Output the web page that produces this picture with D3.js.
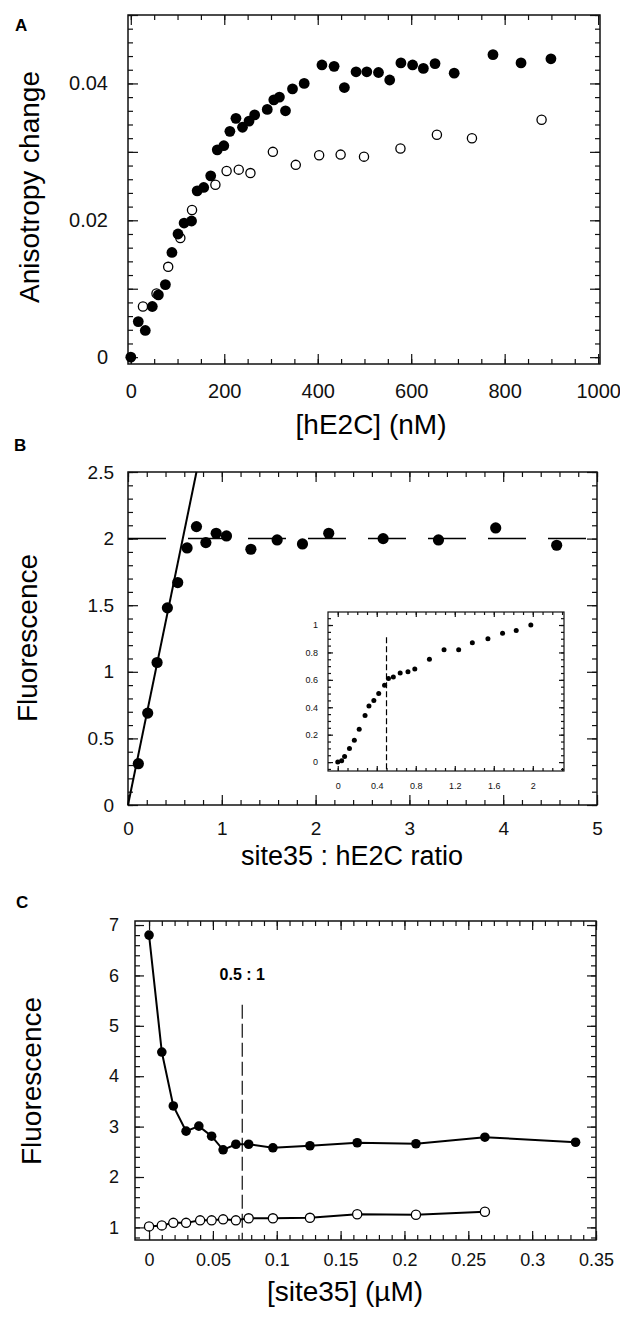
<!DOCTYPE html>
<html>
<head>
<meta charset="utf-8">
<script src="https://cdn.jsdelivr.net/npm/d3@7"></script>
<style>
  body { margin: 0; background: #fff; }
  svg { display: block; font-family: "Liberation Sans", Arial, Helvetica, sans-serif; }
  .axis line { stroke: #111; stroke-width: 1.2; }
  .axis text { fill: #111; }
</style>
</head>
<body>
<svg id="fig" width="620" height="1318"></svg>
<script>
// ---- Panel A: anisotropy change vs [hE2C] (nM)
var aFilledX = [0, 16, 31, 46, 59, 74, 88, 101, 114, 130, 142, 156, 171, 185, 199, 212, 225, 239, 253, 265,
    292, 306, 318, 331, 346, 371, 409, 435, 457, 482, 505, 530, 554, 578, 603, 626, 651, 692, 775, 835, 899];
var aFilledY = [0, 0.0052, 0.0039, 0.0074, 0.0091, 0.0106, 0.0153, 0.0180, 0.0196, 0.0199, 0.0243, 0.0248,
    0.0265, 0.0303, 0.0309, 0.0330, 0.0349, 0.0336, 0.0345, 0.0354, 0.0362, 0.0376, 0.0380, 0.0360, 0.0392,
    0.0400, 0.0427, 0.0425, 0.0394, 0.0417, 0.0417, 0.0416, 0.0405, 0.0430, 0.0427, 0.0422, 0.0429, 0.0415,
    0.0442, 0.0430, 0.0436];
var aOpenX = [26, 55, 80, 106, 131, 181, 205, 231, 256, 304, 353, 403, 449, 499, 577, 655, 730, 879];
var aOpenY = [0.0074, 0.0093, 0.0132, 0.0174, 0.0215, 0.0252, 0.0272, 0.0274, 0.0269, 0.0300, 0.0281,
    0.0295, 0.0296, 0.0293, 0.0305, 0.0325, 0.0320, 0.0347];
var aXTicks = [0, 200, 400, 600, 800, 1000];
var aXTickText = ['0', '200', '400', '600', '800', '1000'];
var aYTicks = [0, 0.02, 0.04];
var aYTickText = ['0', '0.02', '0.04'];

// ---- Panel B: fluorescence vs site35 : hE2C ratio
var bX = [0.11, 0.21, 0.31, 0.42, 0.53, 0.63, 0.73, 0.83, 0.94, 1.05, 1.31, 1.59, 1.86, 2.14, 2.72, 3.31, 3.92, 4.57];
var bY = [0.31, 0.69, 1.07, 1.48, 1.67, 1.93, 2.09, 1.97, 2.04, 2.02, 1.92, 1.99, 1.96, 2.04, 2.00, 1.99, 2.08, 1.95];
var bFitX = [0, 0.73];
var bFitY = [0, 2.5];
var bPlateau = 2;
var bXTicks = [0, 1, 2, 3, 4, 5];
var bXTickText = ['0', '1', '2', '3', '4', '5'];
var bYTicks = [0, 0.5, 1, 1.5, 2, 2.5];
var bYTickText = ['0', '0.5', '1', '1.5', '2', '2.5'];

// inset of panel B
var inX = [0, 0.04, 0.07, 0.12, 0.17, 0.22, 0.28, 0.32, 0.37, 0.42, 0.48, 0.52, 0.57, 0.64, 0.72, 0.79,
    0.94, 1.09, 1.24, 1.38, 1.54, 1.69, 1.83, 1.98];
var inY = [0, 0.01, 0.04, 0.10, 0.16, 0.24, 0.34, 0.41, 0.45, 0.50, 0.56, 0.61, 0.62, 0.65, 0.66, 0.68,
    0.75, 0.82, 0.82, 0.87, 0.90, 0.94, 0.96, 1.00];
var inBreak = 0.5;
var inXTicks = [0, 0.4, 0.8, 1.2, 1.6, 2];
var inXTickText = ['0', '0.4', '0.8', '1.2', '1.6', '2'];
var inYTicks = [0, 0.2, 0.4, 0.6, 0.8, 1];
var inYTickText = ['0', '0.2', '0.4', '0.6', '0.8', '1'];

// ---- Panel C: fluorescence vs [site35] (uM)
var cFilledX = [0, 0.01, 0.019, 0.029, 0.039, 0.049, 0.058, 0.068, 0.078, 0.097, 0.126, 0.163, 0.209, 0.263, 0.334];
var cFilledY = [6.80, 4.48, 3.41, 2.91, 3.01, 2.81, 2.54, 2.65, 2.65, 2.58, 2.62, 2.68, 2.66, 2.79, 2.69];
var cOpenX = [0, 0.01, 0.019, 0.029, 0.04, 0.049, 0.058, 0.068, 0.078, 0.097, 0.126, 0.163, 0.209, 0.263];
var cOpenY = [1.02, 1.04, 1.09, 1.09, 1.14, 1.14, 1.16, 1.14, 1.18, 1.18, 1.19, 1.26, 1.25, 1.31];
var cMark = 0.073;
var cXTicks = [0, 0.05, 0.1, 0.15, 0.2, 0.25, 0.3, 0.35];
var cXTickText = ['0', '0.05', '0.1', '0.15', '0.2', '0.25', '0.3', '0.35'];
var cYTicks = [1, 2, 3, 4, 5, 6, 7];
var cYTickText = ['1', '2', '3', '4', '5', '6', '7'];

var svg = d3.select('#fig');

function steps(n0, n1, step) {
    return d3.range(n0, n1 + 1).map(function(i) { return +(i * step).toFixed(6); });
}

// tick marks pointing into the frame
function addTicks(g, axisFn, scale, values, len, tr) {
    g.append('g').attr('class', 'axis').attr('transform', tr)
        .call(axisFn(scale).tickValues(values).tickSize(-len).tickFormat(''))
        .call(function(s) { s.select('.domain').remove(); });
}

function addLabels(g, axisFn, scale, values, texts, pad, size, tr) {
    g.append('g').attr('class', 'axis').attr('transform', tr)
        .call(axisFn(scale).tickValues(values).tickSize(0).tickPadding(pad)
            .tickFormat(function(d, i) { return texts[i]; }))
        .attr('font-family', null).attr('font-size', null)
        .call(function(s) {
            s.select('.domain').remove();
            s.selectAll('text').style('font-size', size + 'px');
        });
}

function framePanel(g, xs, ys, o) {
    var w = xs.range()[1], h = ys.range()[0];
    var sides = [
        [d3.axisBottom, xs, 'translate(0,' + h + ')', o.xMinor, o.xMajor],
        [d3.axisTop, xs, 'translate(0,0)', o.xMinor, o.xMajor],
        [d3.axisLeft, ys, 'translate(0,0)', o.yMinor, o.yMajor],
        [d3.axisRight, ys, 'translate(' + w + ',0)', o.yMinor, o.yMajor]
    ];
    sides.forEach(function(s) {
        addTicks(g, s[0], s[1], s[3], o.minorLen, s[2]);
        addTicks(g, s[0], s[1], s[4], o.majorLen, s[2]);
    });
    g.append('rect')
        .attr('width', w).attr('height', h)
        .attr('fill', 'none').attr('stroke', '#111').attr('stroke-width', o.frameW);
    addLabels(g, d3.axisBottom, xs, o.xLab, o.xLabText, o.xPad, o.font, 'translate(0,' + h + ')');
    addLabels(g, d3.axisLeft, ys, o.yLab, o.yLabText, o.yPad, o.font, 'translate(0,0)');
}

function panelLetter(txt, x, y) {
    svg.append('text').attr('x', x).attr('y', y)
        .style('font-size', '17px').style('font-weight', 'bold').text(txt);
}

function axisTitle(txt, x, y, rotate, size) {
    svg.append('text')
        .attr('transform', 'translate(' + [x, y] + ')' + (rotate ? ' rotate(-90)' : ''))
        .attr('text-anchor', 'middle').attr('dy', '0.35em')
        .style('font-size', (size || 28) + 'px').text(txt);
}

function pairs(xs, ys) {
    return xs.map(function(d, i) { return [d, ys[i]]; });
}

// =========== Panel A
var gA = svg.append('g').attr('transform', 'translate(128,15)');
var xA = d3.scaleLinear().domain([-6, 1004]).range([0, 472]);
var yA = d3.scaleLinear().domain([-0.001, 0.05]).range([349, 0]);
framePanel(gA, xA, yA, {
    xMinor: steps(0, 20, 50), xMajor: steps(0, 5, 200),
    yMinor: steps(0, 25, 0.002), yMajor: steps(0, 5, 0.01),
    minorLen: 5, majorLen: 10, frameW: 1.5,
    xLab: aXTicks, xLabText: aXTickText, xPad: 20,
    yLab: aYTicks, yLabText: aYTickText, yPad: 20, font: 20
});
gA.selectAll('.open').data(pairs(aOpenX, aOpenY)).enter().append('circle')
    .attr('class', 'open')
    .attr('cx', function(d) { return xA(d[0]); })
    .attr('cy', function(d) { return yA(d[1]); })
    .attr('r', 4.6).attr('fill', '#fff').attr('stroke', '#000').attr('stroke-width', 1.3);
gA.selectAll('.filled').data(pairs(aFilledX, aFilledY)).enter().append('circle')
    .attr('class', 'filled')
    .attr('cx', function(d) { return xA(d[0]); })
    .attr('cy', function(d) { return yA(d[1]); })
    .attr('r', 5.4).attr('fill', '#000');
panelLetter('A', 15, 31);
axisTitle('Anisotropy change', 29, 187, true);
axisTitle('[hE2C] (nM)', 371, 424, false);

// =========== Panel B
var gB = svg.append('g').attr('transform', 'translate(128,472)');
var xB = d3.scaleLinear().domain([0, 5]).range([0, 469]);
var yB = d3.scaleLinear().domain([0, 2.5]).range([333, 0]);
framePanel(gB, xB, yB, {
    xMinor: steps(0, 25, 0.2), xMajor: steps(0, 5, 1),
    yMinor: steps(0, 25, 0.1), yMajor: steps(0, 5, 0.5),
    minorLen: 5, majorLen: 10, frameW: 1.5,
    xLab: bXTicks, xLabText: bXTickText, xPad: 17,
    yLab: bYTicks, yLabText: bYTickText, yPad: 14, font: 19
});
var lineB = d3.line().x(function(d) { return xB(d[0]); }).y(function(d) { return yB(d[1]); });
gB.append('path').datum(pairs(bFitX, bFitY))
    .attr('d', lineB).attr('fill', 'none').attr('stroke', '#000').attr('stroke-width', 2);
gB.append('path').datum([[0, bPlateau], [5, bPlateau]])
    .attr('d', lineB).attr('fill', 'none').attr('stroke', '#000').attr('stroke-width', 1.5)
    .attr('stroke-dasharray', '38,22');
gB.selectAll('.pt').data(pairs(bX, bY)).enter().append('circle')
    .attr('class', 'pt')
    .attr('cx', function(d) { return xB(d[0]); })
    .attr('cy', function(d) { return yB(d[1]); })
    .attr('r', 5.6).attr('fill', '#000');

// inset
var gI = svg.append('g').attr('transform', 'translate(328,612)');
var xI = d3.scaleLinear().domain([-0.1, 2.32]).range([0, 236]);
var yI = d3.scaleLinear().domain([-0.065, 1.095]).range([159, 0]);
gI.append('rect').attr('width', 236).attr('height', 159).attr('fill', '#fff');
framePanel(gI, xI, yI, {
    xMinor: steps(0, 23, 0.1), xMajor: steps(0, 5, 0.4),
    yMinor: steps(-1, 21, 0.05), yMajor: steps(0, 5, 0.2),
    minorLen: 3, majorLen: 5, frameW: 1.2,
    xLab: inXTicks, xLabText: inXTickText, xPad: 12,
    yLab: inYTicks, yLabText: inYTickText, yPad: 10, font: 9
});
gI.append('line')
    .attr('x1', xI(inBreak)).attr('x2', xI(inBreak))
    .attr('y1', yI(0.91)).attr('y2', yI(-0.065))
    .attr('stroke', '#000').attr('stroke-width', 1.2).attr('stroke-dasharray', '6,3');
gI.selectAll('.ipt').data(pairs(inX, inY)).enter().append('circle')
    .attr('class', 'ipt')
    .attr('cx', function(d) { return xI(d[0]); })
    .attr('cy', function(d) { return yI(d[1]); })
    .attr('r', 2.5).attr('fill', '#000');

panelLetter('B', 14, 451);
axisTitle('Fluorescence', 27, 638, true);
axisTitle('site35 : hE2C ratio', 352, 856, false, 27);

// =========== Panel C
var gC = svg.append('g').attr('transform', 'translate(135,921)');
var xC = d3.scaleLinear().domain([-0.011, 0.35]).range([0, 461]);
var yC = d3.scaleLinear().domain([0.75, 7.08]).range([319, 0]);
framePanel(gC, xC, yC, {
    xMinor: steps(0, 35, 0.01), xMajor: steps(0, 7, 0.05),
    yMinor: steps(4, 35, 0.2), yMajor: steps(1, 7, 1),
    minorLen: 5, majorLen: 9, frameW: 1.5,
    xLab: cXTicks, xLabText: cXTickText, xPad: 13,
    yLab: cYTicks, yLabText: cYTickText, yPad: 16, font: 18
});
var lineC = d3.line().x(function(d) { return xC(d[0]); }).y(function(d) { return yC(d[1]); });
gC.append('path').datum([[cMark, 5.42], [cMark, 0.75]])
    .attr('d', lineC).attr('fill', 'none').attr('stroke', '#222').attr('stroke-width', 1.3)
    .attr('stroke-dasharray', '14,5');
gC.append('text')
    .attr('x', xC(cMark)).attr('y', yC(5.9))
    .attr('text-anchor', 'middle')
    .style('font-size', '16px').style('font-weight', 'bold').text('0.5 : 1');
gC.append('path').datum(pairs(cFilledX, cFilledY))
    .attr('d', lineC).attr('fill', 'none').attr('stroke', '#000').attr('stroke-width', 2);
gC.append('path').datum(pairs(cOpenX, cOpenY))
    .attr('d', lineC).attr('fill', 'none').attr('stroke', '#000').attr('stroke-width', 2);
gC.selectAll('.cf').data(pairs(cFilledX, cFilledY)).enter().append('circle')
    .attr('class', 'cf')
    .attr('cx', function(d) { return xC(d[0]); })
    .attr('cy', function(d) { return yC(d[1]); })
    .attr('r', 4.8).attr('fill', '#000');
gC.selectAll('.co').data(pairs(cOpenX, cOpenY)).enter().append('circle')
    .attr('class', 'co')
    .attr('cx', function(d) { return xC(d[0]); })
    .attr('cy', function(d) { return yC(d[1]); })
    .attr('r', 4.6).attr('fill', '#fff').attr('stroke', '#000').attr('stroke-width', 1.3);

panelLetter('C', 16, 908);
axisTitle('Fluorescence', 31, 1081, true);
axisTitle('[site35] (\u00b5M)', 345, 1291, false);
</script>
</body>
</html>
